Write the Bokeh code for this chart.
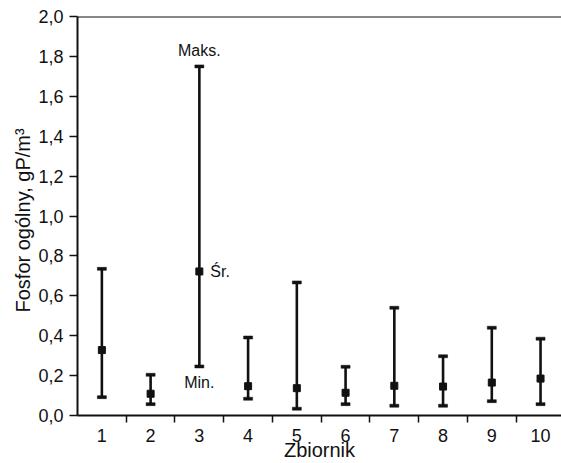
import math
from bokeh.plotting import figure
from bokeh.models import Range1d, FixedTicker, CustomJSTickFormatter, Label, Span, ColumnDataSource, Title
from bokeh.embed import file_html
from bokeh.resources import INLINE

# ---- data ----
zbiornik = [1, 2, 3, 4, 5, 6, 7, 8, 9, 10]
maks = [0.735, 0.204, 1.750, 0.391, 0.667, 0.244, 0.540, 0.297, 0.440, 0.385]
sred = [0.328, 0.109, 0.722, 0.147, 0.137, 0.114, 0.149, 0.145, 0.165, 0.185]
mins = [0.092, 0.057, 0.246, 0.084, 0.034, 0.057, 0.049, 0.049, 0.072, 0.057]
y_ticks = [0.0, 0.2, 0.4, 0.6, 0.8, 1.0, 1.2, 1.4, 1.6, 1.8, 2.0]
x_boundaries = [1.5, 2.5, 3.5, 4.5, 5.5, 6.5, 7.5, 8.5, 9.5]
label_idx = 2  # Zbiornik 3 carries the explanatory labels
label_texts = ["Maks.", "Śr.", "Min."]
x_title = "Zbiornik"
y_title = "Fosfor ogólny, gP/m³"

FONT = "Liberation Sans"
INK = "#111111"

src = ColumnDataSource(dict(x=zbiornik, hi=maks, mid=sred, lo=mins))

p = figure(width=561, height=463, output_backend="svg", toolbar_location=None,
           x_range=Range1d(0.5, 10.43), y_range=Range1d(0.0, 2.0),
           min_border_left=77, min_border_right=0, min_border_top=16, min_border_bottom=48)
p.outline_line_color = None
p.xgrid.visible = False
p.ygrid.visible = False
p.background_fill_color = "white"
p.border_fill_color = "white"

# whiskers
p.segment(x0="x", y0="lo", x1="x", y1="hi", source=src, line_color=INK, line_width=2.6)
p.rect(x="x", y="hi", width=9, height=3, width_units="screen", height_units="screen",
       source=src, fill_color=INK, line_color=INK, line_width=0.5)
p.rect(x="x", y="lo", width=9, height=3, width_units="screen", height_units="screen",
       source=src, fill_color=INK, line_color=INK, line_width=0.5)
p.scatter(x="x", y="mid", source=src, marker="square", size=7, fill_color=INK, line_color=INK)

# top frame line
p.add_layout(Span(location=2.0, dimension="width", line_color=INK, line_width=2))

# annotations on Zbiornik 3
xl = zbiornik[label_idx]
p.add_layout(Label(x=xl, y=maks[label_idx], text=label_texts[0], y_offset=7,
                   text_align="center", text_baseline="bottom",
                   text_font=FONT, text_font_size="16px", text_color=INK))
p.add_layout(Label(x=xl, y=sred[label_idx], text=label_texts[1], x_offset=11,
                   text_align="left", text_baseline="middle",
                   text_font=FONT, text_font_size="16px", text_color=INK))
p.add_layout(Label(x=xl, y=mins[label_idx], text=label_texts[2], y_offset=-8,
                   text_align="center", text_baseline="top",
                   text_font=FONT, text_font_size="16px", text_color=INK))

# x axis
xa = p.xaxis[0]
xa.ticker = FixedTicker(ticks=zbiornik, minor_ticks=x_boundaries)
xa.major_tick_out = 0
xa.major_tick_in = 0
xa.minor_tick_out = 7
xa.minor_tick_in = 0
xa.minor_tick_line_width = 1.5
xa.minor_tick_line_color = INK
xa.axis_line_width = 2
xa.axis_line_color = INK
xa.major_label_standoff = 6
xa.major_label_text_font = FONT
xa.major_label_text_font_size = "18px"
xa.major_label_text_color = INK
xa.axis_label = x_title
xa.axis_label_standoff = -6
xa.axis_label_text_font = FONT
xa.axis_label_text_font_size = "20px"
xa.axis_label_text_font_style = "normal"
xa.axis_label_text_color = INK

# y axis
ya = p.yaxis[0]
ya.ticker = FixedTicker(ticks=y_ticks, minor_ticks=[])
ya.formatter = CustomJSTickFormatter(code="return tick.toFixed(1).replace('.', ',');")
ya.major_tick_out = 8
ya.major_tick_in = 0
ya.major_tick_line_width = 1.5
ya.major_tick_line_color = INK
ya.axis_line_width = 2
ya.axis_line_color = INK
ya.major_label_standoff = 6
ya.major_label_text_font = FONT
ya.major_label_text_font_size = "18px"
ya.major_label_text_color = INK

# y title as a side title (offset along the axis like the reference)
p.add_layout(Title(text=y_title, align="left", offset=103, standoff=4,
                   text_font=FONT, text_font_size="20px", text_font_style="normal",
                   text_color=INK), "left")

open("out.html", "w").write(file_html(p, INLINE))
